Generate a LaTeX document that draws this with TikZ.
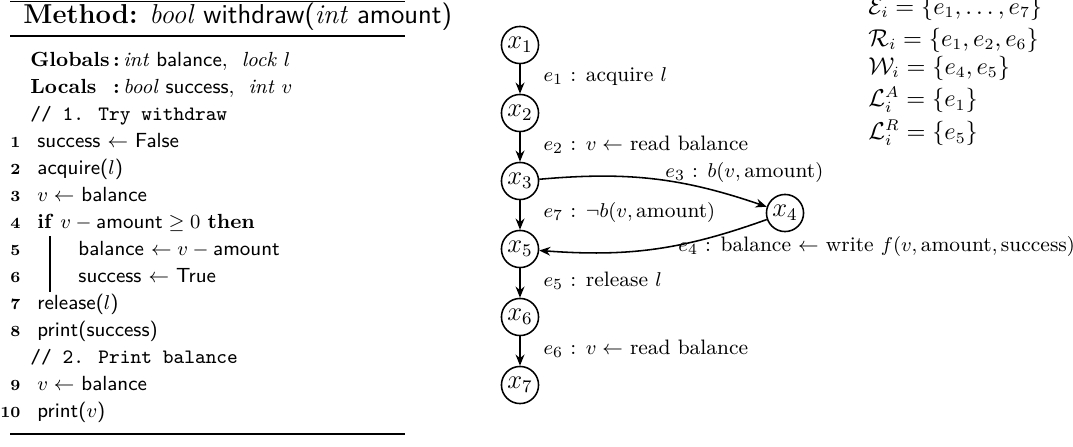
\documentclass[tikz,border=0pt]{standalone}
\usepackage{amsmath, amssymb}
\usepackage{calc}
\usepackage{tikz}
\usetikzlibrary{positioning, arrows.meta}
\tikzset{
    node distance=13.2pt,% gap between two states of the run
}
\newcommand{\kwbox}[1]{\makebox[\widthof{\textbf{Globals}}][l]{\textbf{#1}}}

\begin{document}
\begin{tikzpicture}
        [x=0.45pt, y=-0.45pt,
        state/.style={draw, circle, line width=0.7pt, minimum size=16.7pt, inner sep=0.5pt, font=\large},
        trans/.style={-{Stealth[length=5pt, width=4pt]}, line width=0.7pt},
        elab/.style={midway, anchor=west, xshift=10.3pt, yshift=1pt},
        lab/.style={anchor=west, inner sep=0pt, font=\fontsize{9.4}{11}\selectfont},
        code/.style={anchor=base west, inner sep=0pt, font=\fontsize{9.2}{11}\selectfont},
        lnum/.style={anchor=base east, inner sep=0pt, font=\scriptsize\bfseries},
        sets/.style={anchor=west, inner sep=0pt, font=\fontsize{10.5}{12}\selectfont}]
    \useasboundingbox (0,0) rectangle (1073,446);

    % the method
    \draw[line width=0.4pt] (10,1) -- (405,1);
    \node[code, font=\fontsize{12.3}{14}\selectfont] (head) at (23,23)
        {\textbf{Method:} \textit{bool} \textsf{withdraw(}\textit{int} \textsf{amount)}};
    \draw[line width=0.8pt] (10,36) -- (405,36);
    \node[code] (glob) at (30,66) {\kwbox{Globals}\,\textbf{:}\,\textit{int} \textsf{balance}, \ \textit{lock} $l$};
    \node[code] (loc) at (30,93) {\kwbox{Locals}\,\textbf{:}\,\textit{bool} \textsf{success}, \ \textit{int} $v$};
    \node[code] (com1) at (30,120) {\texttt{// 1. Try withdraw}};
    \foreach \n/\y in {1/147, 2/174, 3/201, 4/228, 5/255, 6/282, 7/309, 8/336, 9/390, 10/417}
        \node[lnum] (n\n) at (21,\y) {\n};
    \node[code] (s1) at (37,147) {\textsf{success} $\leftarrow$ \textsf{False}};
    \node[code] (s2) at (37,174) {\textsf{acquire(}$l$\textsf{)}};
    \node[code] (s3) at (37,201) {$v \leftarrow$ \textsf{balance}};
    \node[code] (s4) at (37,228) {\textbf{if} $v - \textsf{amount} \geq 0$ \textbf{then}};
    \draw[line width=0.5pt] (50,236) -- (50,292);
    \node[code] (s5) at (78,255) {\textsf{balance} $\leftarrow v - \textsf{amount}$};
    \node[code] (s6) at (78,282) {\textsf{success} $\leftarrow$ \textsf{True}};
    \node[code] (s7) at (37,309) {\textsf{release(}$l$\textsf{)}};
    \node[code] (s8) at (37,336) {\textsf{print(success)}};
    \node[code] (com2) at (30,363) {\texttt{// 2. Print balance}};
    \node[code] (s9) at (37,390) {$v \leftarrow$ \textsf{balance}};
    \node[code] (s10) at (37,417) {\textsf{print(}$v$\textsf{)}};
    \draw[line width=0.8pt] (10,434) -- (405,434);

    % the run graph
    \node[state] (x1) at (520,45) {$x_1$};
    \node[state, below=of x1] (x2) {$x_2$};
    \node[state, below=of x2] (x3) {$x_3$};
    \node[state, below=of x3] (x5) {$x_5$};
    \node[state, below=of x5] (x6) {$x_6$};
    \node[state, below=of x6] (x7) {$x_7$};
    \node[state] (x4) at (785,213) {$x_4$};
    \draw[trans] (x1) -- node[lab, elab] (l1) {$e_1$ : acquire $l$} (x2);
    \draw[trans] (x2) -- node[lab, elab] (l2) {$e_2$ : $v \leftarrow$ read balance} (x3);
    \draw[trans] (x3) -- node[lab, elab] (l7) {$e_7$ : $\neg b(v, \text{amount})$} (x5);
    \draw[trans] (x5) -- node[lab, elab] (l5) {$e_5$ : release $l$} (x6);
    \draw[trans] (x6) -- node[lab, elab] (l6) {$e_6$ : $v \leftarrow$ read balance} (x7);
    \draw[trans] (x3) to[bend left=12] (x4);
    \draw[trans] (x4) to[bend left=12] (x5);
    \node[lab] (l3) at (665,172) {$e_3$ : $b(v, \text{amount})$};
    \node[lab] (l4) at (678,246) {$e_4$ : balance $\leftarrow$ write $f(v, \text{amount}, \text{success})$};

    % the sets
    \node[sets] (setE) at (868,8) {$\mathcal{E}_i = \{e_1, \ldots, e_7\}$};
    \node[sets] (setR) at (868,40) {$\mathcal{R}_i = \{e_1, e_2, e_6\}$};
    \node[sets] (setW) at (868,68) {$\mathcal{W}_i = \{e_4, e_5\}$};
    \node[sets] (setLA) at (868,100) {$\mathcal{L}^A_i = \{e_1\}$};
    \node[sets] (setLR) at (868,133) {$\mathcal{L}^R_i = \{e_5\}$};
\end{tikzpicture}
\end{document}
